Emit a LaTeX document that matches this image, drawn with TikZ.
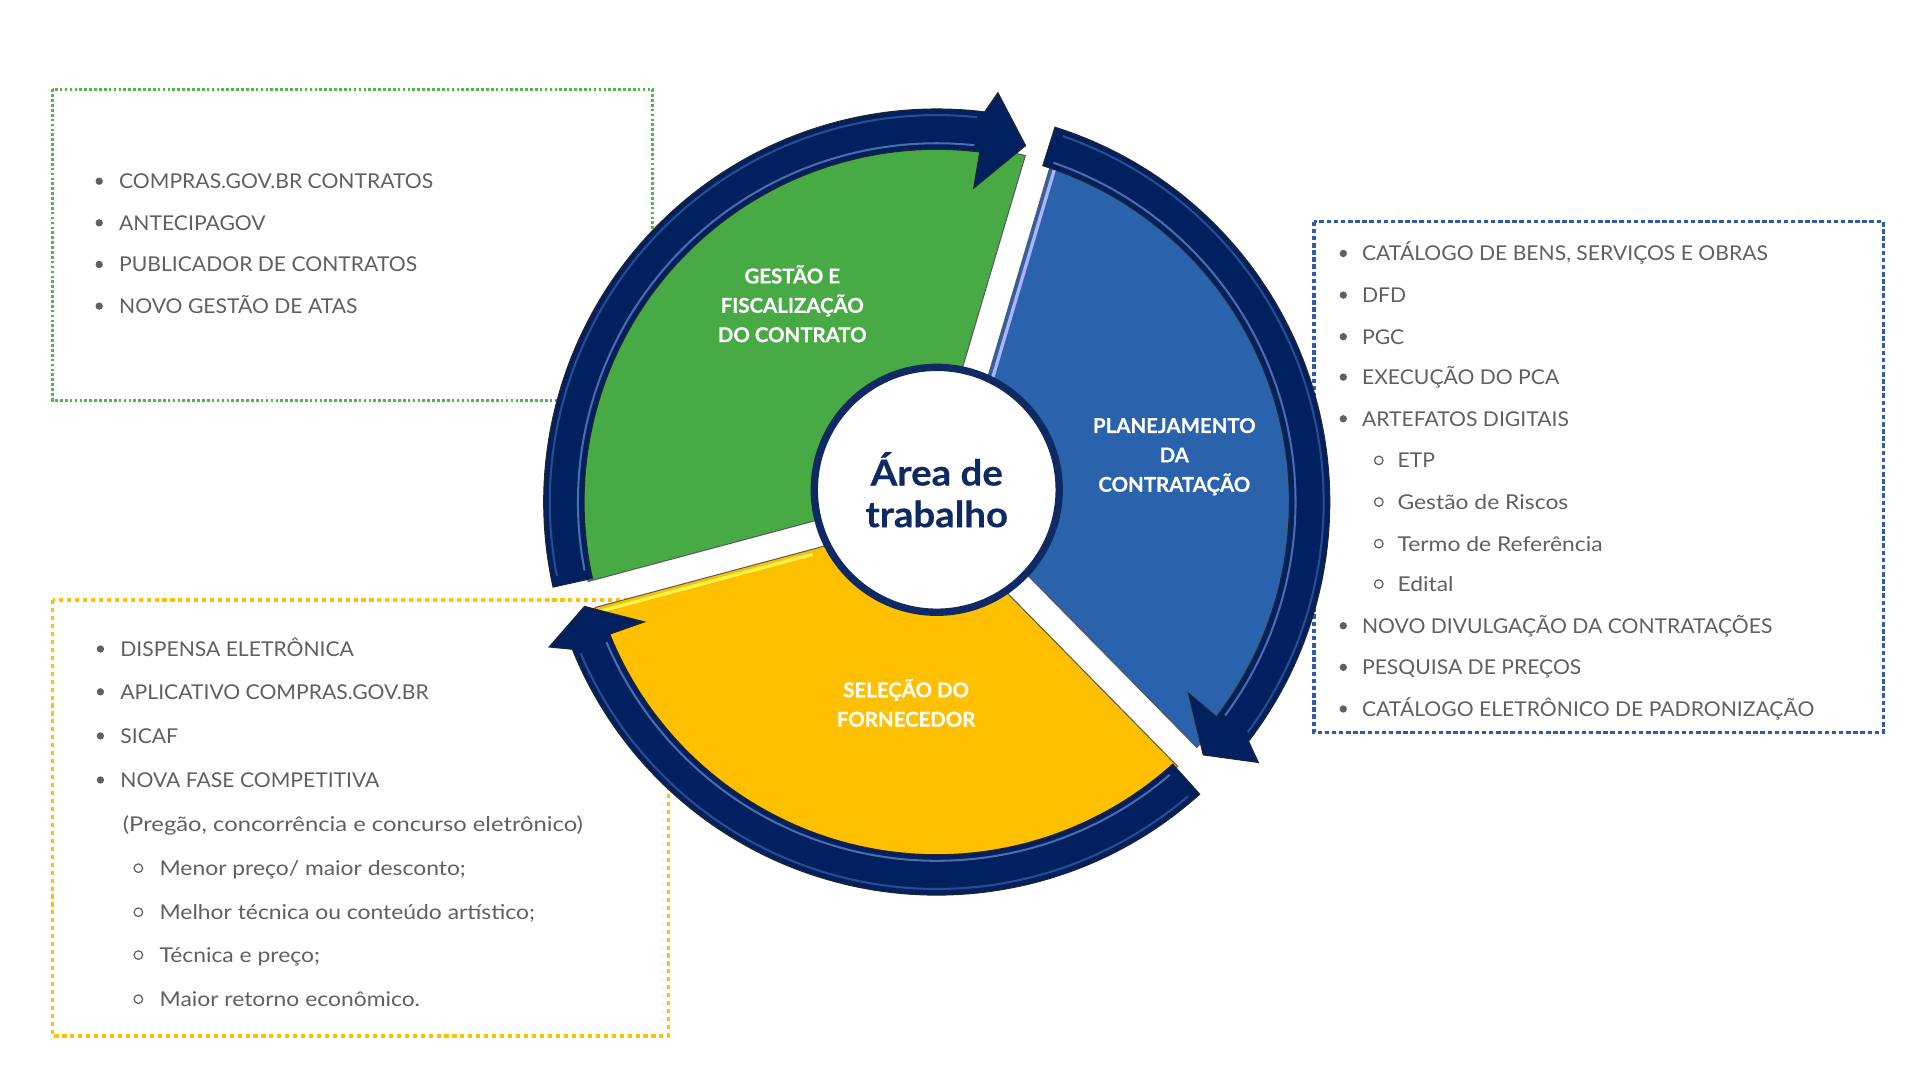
\documentclass[tikz,border=0pt]{standalone}
\usepackage{fontspec}
\setmainfont{Lato}
\newfontfamily\latocaps{Lato}[FakeStretch=1.035]
\newfontfamily\latolc{Lato}[FakeStretch=1.12]
\newfontfamily\latolcw{Lato}[FakeStretch=1.165]
\newfontfamily\latolab{Lato}[FakeBold=0.5]
\newfontfamily\latoctr{Lato}[FakeStretch=1.07,FakeBold=0.4]
\newcommand\listfont{\latocaps\fontsize{10}{12}\selectfont}
\newcommand\listfontlc{\latolc\fontsize{10}{12}\selectfont}
\newcommand\listfontlcw{\latolcw\fontsize{10}{12}\selectfont}
\newcommand\labfont{\latolab\bfseries\fontsize{10}{14.4}\selectfont}
\newcommand\ctrfont{\latoctr\bfseries\fontsize{17.6}{20.4}\selectfont}
\definecolor{navy}{HTML}{002060}
\definecolor{cnavy}{HTML}{0F2A63}
\definecolor{sgreen}{HTML}{48AA45}
\definecolor{sblue}{HTML}{2A62AC}
\definecolor{syellow}{HTML}{FFC000}
\definecolor{txtgray}{HTML}{606060}
\definecolor{gboxc}{HTML}{50B848}
\definecolor{oboxc}{HTML}{FFC000}
\definecolor{bboxc}{HTML}{2F5AAE}
\definecolor{glossc}{HTML}{7F9FE0}
\newcommand\mysector[3]{%
  \pgfmathsetmacro\secA{#2+asin(11/292)}%
  \pgfmathsetmacro\secB{#3-asin(11/292)}%
  \pgfmathsetmacro\secC{#2+asin(11/40)}%
  \pgfmathsetmacro\secD{#3-asin(11/40)}%
  \filldraw[#1] (\secC:40) -- (\secA:292) arc[start angle=\secA, end angle=\secB, radius=292] -- (\secD:40) -- cycle;}
\newcommand\myarrow[3]{%
  \pgfmathsetmacro\arO{#2-1.5}%
  \pgfmathsetmacro\arI{#2+0.3}%
  \pgfmathsetmacro\glA{#1-1.5}%
  \pgfmathsetmacro\glB{#2+1}%
  \filldraw[ringarrow] (#1:321) arc[start angle=#1, end angle=#2, radius=321] -- (\arO:338) -- (#3:300) -- (\arI:258) -- (#2:288) arc[start angle=#2, end angle=#1, radius=288] -- cycle;
  \draw[gloss] (\glA:293) arc[start angle=\glA, end angle=\glB, radius=293];
  \draw[gloss, opacity=0.35] (\glA:316) arc[start angle=\glA, end angle=\glB, radius=316];}
\begin{document}
\begin{tikzpicture}[x=0.6pt,y=0.6pt,
  item/.style={anchor=base west, inner sep=0pt, font=\listfont, text=txtgray},
  itemlc/.style={item, font=\listfontlc},
  itemlcw/.style={item, font=\listfontlcw},
  bul/.style={fill=txtgray},
  subbul/.style={draw=txtgray, line width=0.6pt},
  lab/.style={text=white, font=\labfont, align=center, inner sep=0pt},
  gbox/.style={draw=gboxc, line width=1.3pt, dash pattern=on 1.3pt off 1.1pt},
  obox/.style={draw=oboxc, line width=1.7pt, dash pattern=on 2pt off 1.9pt},
  bbox/.style={draw=bboxc, line width=1.7pt, dash pattern=on 2.2pt off 1.3pt},
  ringarrow/.style={fill=navy, draw=black!85, line width=0.5pt},
  gloss/.style={draw=glossc, line width=1pt, opacity=0.6},
  secline/.style={draw=black!65, line width=0.5pt}]
\useasboundingbox (0,0) rectangle (1568,882);
\fill[white] (0,0) rectangle (1568,882);
% dotted boxes
\draw[gbox] (43,809) rectangle (533,555);
\draw[obox] (43,392) rectangle (546,36);
\draw[bbox] (1073,701) rectangle (1538,284);
% wheel
\begin{scope}[shift={(765,472)}]
  \mysector{fill=sgreen, secline}{73.5}{195}
  \mysector{fill=sblue, secline}{-45.5}{73.5}
  \mysector{fill=syellow, secline}{195}{314.5}
  \pgfmathsetmacro\hA{73.5-asin(15/110)}\pgfmathsetmacro\hB{73.5-asin(15/290)}
  \draw[draw=blue!30!white, line width=1.6pt] (\hA:110) -- (\hB:290);
  \pgfmathsetmacro\hC{195+asin(15/110)}\pgfmathsetmacro\hD{195+asin(15/290)}
  \draw[draw=yellow!70!white, line width=1.6pt] (\hC:110) -- (\hD:290);
  \myarrow{192.5}{83}{76}
  \myarrow{72.5}{-37.5}{-43.5}
  \myarrow{-48}{-158}{-163.5}
\end{scope}
\node[circle, draw=cnavy, fill=white, line width=3.6pt, minimum size=120pt, inner sep=0pt, font=\ctrfont, text=cnavy, align=center] (ctr) at (765,482) {Área de\\trabalho};
\node[lab] (lgest) at (647,634) {GESTÃO E\\FISCALIZAÇÃO\\DO CONTRATO};
\node[lab] (lplan) at (959,509) {PLANEJAMENTO\\DA\\CONTRATAÇÃO};
\node[lab] (lsel) at (740,308) {SELEÇÃO DO\\FORNECEDOR};
% green list
\fill[bul] (81,734) circle (3); \node[item] (g1) at (97,728) {COMPRAS.GOV.BR CONTRATOS};
\fill[bul] (81,700) circle (3); \node[item] (g2) at (97,694) {ANTECIPAGOV};
\fill[bul] (81,666) circle (3); \node[item] (g3) at (97,660) {PUBLICADOR DE CONTRATOS};
\fill[bul] (81,632) circle (3); \node[item] (g4) at (97,626) {NOVO GESTÃO DE ATAS};
% orange list
\fill[bul] (82,352) circle (3); \node[item] (o1) at (98,346) {DISPENSA ELETRÔNICA};
\fill[bul] (82,317) circle (3); \node[item] (o2) at (98,311) {APLICATIVO COMPRAS.GOV.BR};
\fill[bul] (82,281) circle (3); \node[item] (o3) at (98,275) {SICAF};
\fill[bul] (82,245) circle (3); \node[item] (o4) at (98,239) {NOVA FASE COMPETITIVA};
\node[itemlcw] (o5) at (100,203) {(Pregão, concorrência e concurso eletrônico)};
\draw[subbul] (113,173) circle (3.5); \node[itemlc] (o6) at (130,167) {Menor preço/ maior desconto;};
\draw[subbul] (113,137) circle (3.5); \node[itemlc] (o7) at (130,131) {Melhor técnica ou conteúdo artístico;};
\draw[subbul] (113,102) circle (3.5); \node[itemlc] (o8) at (130,96) {Técnica e preço;};
\draw[subbul] (113,66) circle (3.5); \node[itemlc] (o9) at (130,60) {Maior retorno econômico.};
% blue list
\fill[bul] (1097,675) circle (3); \node[item] (b1) at (1112,669) {CATÁLOGO DE BENS, SERVIÇOS E OBRAS};
\fill[bul] (1097,641) circle (3); \node[item] (b2) at (1112,635) {DFD};
\fill[bul] (1097,607) circle (3); \node[item] (b3) at (1112,601) {PGC};
\fill[bul] (1097,574) circle (3); \node[item] (b4) at (1112,568) {EXECUÇÃO DO PCA};
\fill[bul] (1097,540) circle (3); \node[item] (b5) at (1112,534) {ARTEFATOS DIGITAIS};
\draw[subbul] (1126,506) circle (3.5); \node[item] (b6) at (1141,500) {ETP};
\draw[subbul] (1126,472) circle (3.5); \node[itemlc] (b7) at (1141,466) {Gestão de Riscos};
\draw[subbul] (1126,438) circle (3.5); \node[itemlc] (b8) at (1141,432) {Termo de Referência};
\draw[subbul] (1126,405) circle (3.5); \node[itemlc] (b9) at (1141,399) {Edital};
\fill[bul] (1097,371) circle (3); \node[item] (b10) at (1112,365) {NOVO DIVULGAÇÃO DA CONTRATAÇÕES};
\fill[bul] (1097,337) circle (3); \node[item] (b11) at (1112,331) {PESQUISA DE PREÇOS};
\fill[bul] (1097,303) circle (3); \node[item] (b12) at (1112,297) {CATÁLOGO ELETRÔNICO DE PADRONIZAÇÃO};
\end{tikzpicture}
\end{document}
